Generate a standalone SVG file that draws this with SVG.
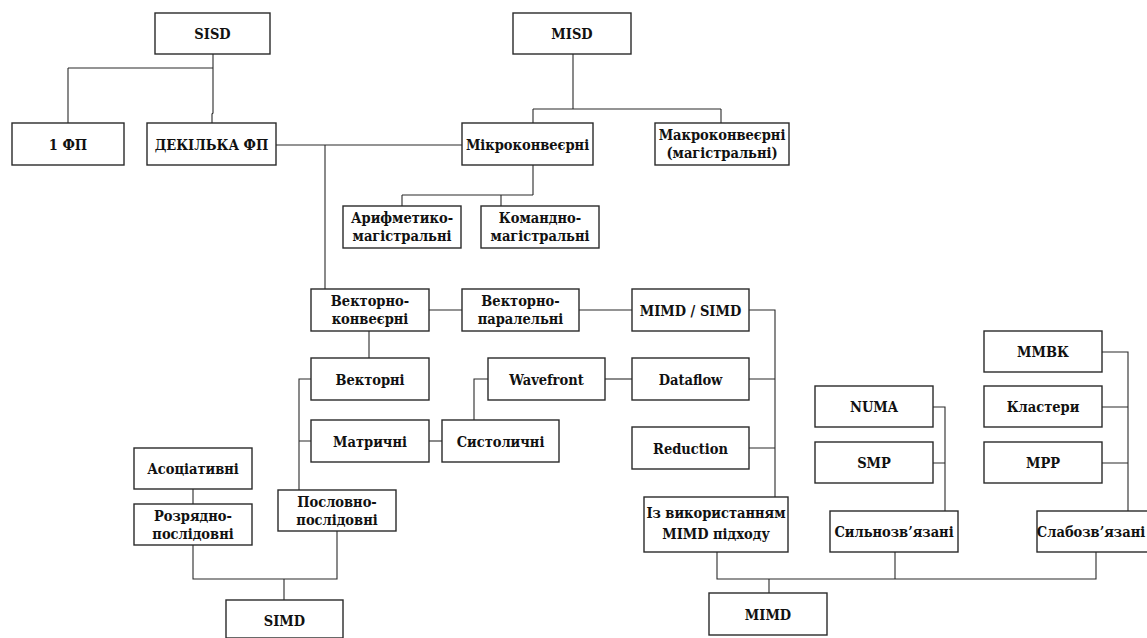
<svg xmlns="http://www.w3.org/2000/svg" width="1147" height="638" viewBox="0 0 1147 638">
  <style>
    .box rect { fill: #ffffff; stroke: #2a2a2a; stroke-width: 1.4; }
    .box text { font-family: "DejaVu Serif", serif; font-stretch: condensed; font-weight: bold; font-size: 14.5px; fill: #111111; text-anchor: middle; }
    #connectors path { fill: none; stroke: #2a2a2a; stroke-width: 1.1; }
  </style>
  <rect width="1147" height="638" fill="#ffffff"/>

  <!-- connectors -->
  <g id="connectors">
    <!-- SISD branch -->
    <path d="M213,54 V68 M68,68 H213 M68,68 V123 M213,68 V113 L212,114 V123"/>
    <path d="M276,145 H462"/>
    <path d="M325,145 V289"/>
    <!-- MISD branch -->
    <path d="M573,54 V109 M533,109 H721 M533,109 V123 M721,109 V123"/>
    <path d="M533,165 V195 M402,195 H533 M402,195 V206 M501,195 V206"/>
    <!-- vector pipeline chain -->
    <path d="M429,310 H462 M579,310 H632"/>
    <path d="M369,331 V358"/>
    <path d="M311,379 H299 V490 M299,441 H311"/>
    <path d="M429,441 H442"/>
    <path d="M488,379 H474 V420"/>
    <path d="M605,379 H632"/>
    <!-- MIMD-approach group -->
    <path d="M749,310 H775 V497 M749,379 H775 M749,448 H775"/>
    <!-- SIMD tree -->
    <path d="M193,489 V504"/>
    <path d="M193,545 V579 H337 V531 M284,579 V600"/>
    <!-- tightly / loosely coupled -->
    <path d="M933,407 H945 V511 M933,463 H945"/>
    <path d="M1102,352 H1128 V511 M1102,407 H1128 M1102,463 H1128"/>
    <!-- MIMD tree -->
    <path d="M717,552 V579 H1096 V552 M895,552 V579 M769,579 V593"/>
  </g>

  <g id="sisd" class="box"><rect x="155" y="13" width="115" height="41"/><text x="212.5" y="39">SISD</text></g>
  <g id="misd" class="box"><rect x="513" y="13" width="118" height="41"/><text x="572" y="39">MISD</text></g>
  <g id="one-fp" class="box"><rect x="12" y="123" width="112" height="42"/><text x="68" y="150">1 ФП</text></g>
  <g id="several-fp" class="box"><rect x="147" y="123" width="129" height="42"/><text x="211.5" y="150">ДЕКІЛЬКА ФП</text></g>
  <g id="micro-pipeline" class="box"><rect x="462" y="123" width="131" height="42"/><text x="527.5" y="150">Мікроконвеєрні</text></g>
  <g id="macro-pipeline" class="box"><rect x="655" y="123" width="134" height="42"/><text x="722" y="139.5">Макроконвеєрні</text><text x="722" y="157.5">(магістральні)</text></g>
  <g id="arith-trunk" class="box"><rect x="343" y="206" width="118" height="42"/><text x="402" y="223">Арифметико-</text><text x="402" y="241">магістральні</text></g>
  <g id="cmd-trunk" class="box"><rect x="481" y="206" width="118" height="42"/><text x="540" y="223">Командно-</text><text x="540" y="241">магістральні</text></g>
  <g id="vector-pipeline" class="box"><rect x="311" y="289" width="118" height="42"/><text x="370" y="306">Векторно-</text><text x="370" y="324">конвеєрні</text></g>
  <g id="vector-parallel" class="box"><rect x="462" y="289" width="117" height="42"/><text x="520.5" y="306">Векторно-</text><text x="520.5" y="324">паралельні</text></g>
  <g id="mimd-simd" class="box"><rect x="632" y="289" width="117" height="42"/><text x="690.5" y="316">MIMD / SIMD</text></g>
  <g id="vector" class="box"><rect x="311" y="358" width="118" height="42"/><text x="370" y="385">Векторні</text></g>
  <g id="wavefront" class="box"><rect x="488" y="358" width="117" height="42"/><text x="546.5" y="385">Wavefront</text></g>
  <g id="dataflow" class="box"><rect x="632" y="358" width="117" height="42"/><text x="690.5" y="385">Dataflow</text></g>
  <g id="matrix" class="box"><rect x="311" y="420" width="118" height="42"/><text x="370" y="447">Матричні</text></g>
  <g id="systolic" class="box"><rect x="442" y="420" width="117" height="42"/><text x="500.5" y="447">Систоличні</text></g>
  <g id="reduction" class="box"><rect x="632" y="427" width="117" height="42"/><text x="690.5" y="454">Reduction</text></g>
  <g id="associative" class="box"><rect x="134" y="448" width="118" height="41"/><text x="193" y="474">Асоціативні</text></g>
  <g id="bit-serial" class="box"><rect x="134" y="504" width="118" height="41"/><text x="193" y="521">Розрядно-</text><text x="193" y="539">послідовні</text></g>
  <g id="word-serial" class="box"><rect x="278" y="490" width="118" height="41"/><text x="337" y="507">Пословно-</text><text x="337" y="525">послідовні</text></g>
  <g id="simd" class="box"><rect x="226" y="600" width="117" height="38"/><text x="284.5" y="626">SIMD</text></g>
  <g id="mimd-approach" class="box"><rect x="644" y="497" width="144" height="55"/><text x="716" y="518">Із використанням</text><text x="716" y="539">MIMD підходу</text></g>
  <g id="numa" class="box"><rect x="815" y="386" width="118" height="41"/><text x="874" y="412">NUMA</text></g>
  <g id="smp" class="box"><rect x="815" y="442" width="118" height="41"/><text x="874" y="468">SMP</text></g>
  <g id="mmvk" class="box"><rect x="984" y="331" width="118" height="41"/><text x="1043" y="357">ММВК</text></g>
  <g id="clusters" class="box"><rect x="984" y="386" width="118" height="41"/><text x="1043" y="412">Кластери</text></g>
  <g id="mpp" class="box"><rect x="984" y="442" width="118" height="41"/><text x="1043" y="468">MPP</text></g>
  <g id="tightly-coupled" class="box"><rect x="830" y="511" width="128" height="41"/><text x="894" y="537">Сильнозв’язані</text></g>
  <g id="loosely-coupled" class="box"><rect x="1037" y="511" width="117" height="41"/><text x="1091" y="537">Слабозв’язані</text></g>
  <g id="mimd" class="box"><rect x="709" y="593" width="118" height="42"/><text x="768" y="620">MIMD</text></g>
</svg>
